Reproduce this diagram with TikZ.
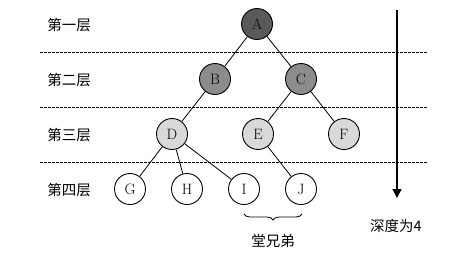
\documentclass[tikz,border=0pt]{standalone}
\usepackage{fontspec}
\usepackage{tikz}
\usetikzlibrary{arrows.meta,decorations.pathreplacing}
\newfontfamily\cjk{Noto Sans CJK SC}

\begin{document}
\begin{tikzpicture}[x=1pt,y=-1pt, >={Triangle[length=9pt,width=9pt]},
  vnode/.style={draw,circle,minimum size=31pt,inner sep=0pt,line width=0.9pt,font=\fontsize{15}{15}\selectfont},
  lvl/.style={font=\cjk\fontsize{14.5}{14.5}\selectfont,anchor=center},
  sep/.style={dashed,line width=0.8pt,dash pattern=on 2.5pt off 1.5pt}]
\useasboundingbox (0,0) rectangle (468,255);
% levels
\draw[sep] (40,52) -- (428,52);
\draw[sep] (40,107) -- (428,107);
\draw[sep] (40,162) -- (428,162);
\node[lvl] (l1) at (69,25) {第一层};
\node[lvl] (l2) at (69,80) {第二层};
\node[lvl] (l3) at (69,135) {第三层};
\node[lvl] (l4) at (69,190) {第四层};
% tree
\node[vnode,fill=black!65] (a) at (257,24) {A};
\node[vnode,fill=black!45] (b) at (215,79) {B};
\node[vnode,fill=black!45] (c) at (301,79) {C};
\node[vnode,fill=black!15] (d) at (172,134) {D};
\node[vnode,fill=black!15] (e) at (258,134) {E};
\node[vnode,fill=black!15] (f) at (344,134) {F};
\node[vnode,fill=white] (g) at (130,189) {G};
\node[vnode,fill=white] (h) at (187,189) {H};
\node[vnode,fill=white] (i) at (244,189) {I};
\node[vnode,fill=white] (j) at (301,189) {J};
\draw[line width=0.8pt] (a)--(b); \draw[line width=0.8pt] (a)--(c);
\draw[line width=0.8pt] (b)--(d); \draw[line width=0.8pt] (c)--(e); \draw[line width=0.8pt] (c)--(f);
\draw[line width=0.8pt] (d)--(g); \draw[line width=0.8pt] (d)--(h); \draw[line width=0.8pt] (d)--(i);
\draw[line width=0.8pt] (e)--(j);
% depth
\coordinate (top) at (397,10);
\coordinate (bot) at (397,198);
\draw[->,line width=1.4pt] (top) -- (bot);
\node[lvl] (depth) at (396,226) {深度为4};
% cousins
\coordinate (bl) at (244,214);
\coordinate (br) at (302,214);
\draw[decorate,decoration={brace,mirror,amplitude=6pt},line width=0.8pt] (bl) -- (br);
\node[lvl] (cous) at (273,241) {堂兄弟};
\end{tikzpicture}
\end{document}
